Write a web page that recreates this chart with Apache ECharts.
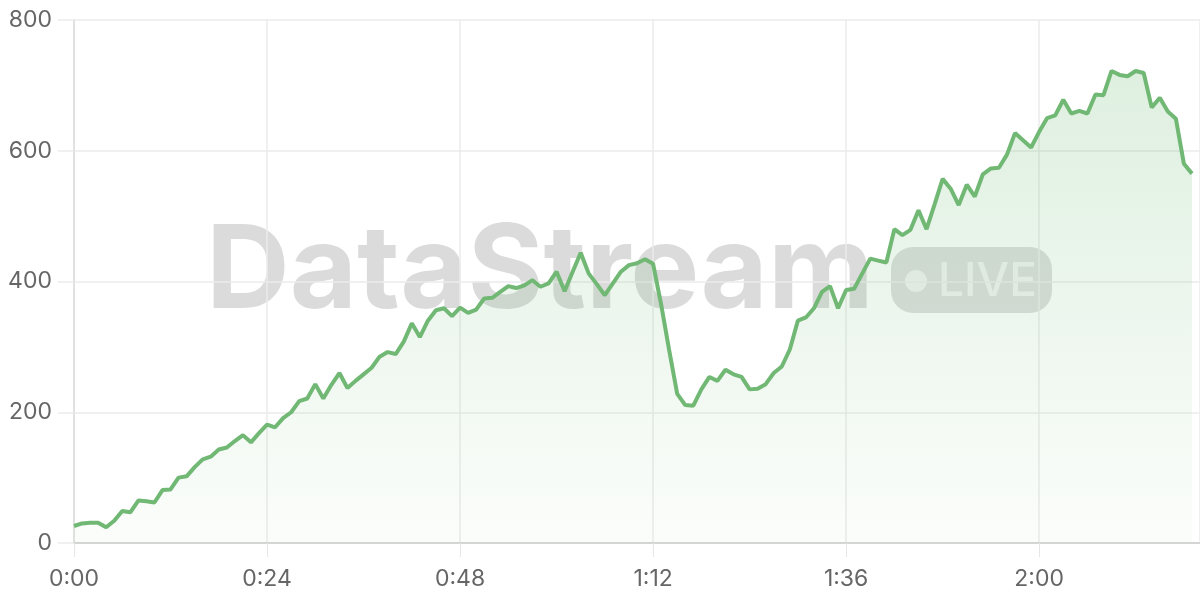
<!DOCTYPE html>
<html>
<head>
<meta charset="utf-8">
<script src="https://cdn.jsdelivr.net/npm/echarts@6/dist/echarts.min.js"></script>
<style>
html,body{margin:0;padding:0;background:#fff;}
#chart{width:1200px;height:600px;}
</style>
</head>
<body>
<div id="chart"></div>
<script>
// Values sampled once per second (0:00 .. 2:19)
const values = [
  26, 30, 31, 31, 24, 34, 49, 47, 65, 64,
  62, 81, 82, 100, 102, 116, 128, 132, 143, 146,
  156, 165, 154, 168, 181, 177, 191, 200, 217, 221,
  243, 221, 242, 260, 237, 248, 258, 268, 285, 292,
  289, 308, 336, 315, 340, 356, 359, 347, 360, 352,
  357, 374, 375, 384, 393, 390, 394, 402, 392, 397,
  415, 385, 415, 444, 412, 396, 379, 397, 415, 425,
  428, 434, 427, 365, 295, 228, 211, 210, 235, 254,
  248, 265, 258, 254, 235, 236, 243, 260, 270, 296,
  340, 345, 359, 384, 393, 359, 387, 389, 412, 435,
  432, 429, 480, 471, 479, 509, 480, 518, 557, 542,
  517, 548, 530, 564, 573, 574, 594, 627, 616, 605,
  629, 650, 654, 678, 657, 661, 657, 686, 685, 722,
  716, 714, 722, 719, 666, 681, 660, 649, 580, 565
];
const yTicks = [0, 200, 400, 600, 800];
const xTickSeconds = [0, 24, 48, 72, 96, 120];
const watermarkText = 'DataStream';
const badgeText = 'LIVE';

const seriesData = values.map((v, i) => [i, v]);

function fmt(sec) {
  const m = Math.floor(sec / 60);
  const s = Math.round(sec % 60);
  return m + ':' + (s < 10 ? '0' + s : s);
}

const chart = echarts.init(document.getElementById('chart'), null, {renderer: 'canvas'});
const green = '#70b874';
chart.setOption({
  animation: false,
  backgroundColor: '#fff',
  grid: {left: 74, right: 0, top: 20, bottom: 57, containLabel: false},
  graphic: [
    {
      type: 'text', z: 0, x: 206, y: 273,
      style: {
        text: watermarkText,
        font: 'bold 116px Inter, sans-serif',
        fill: 'rgba(0,0,0,0.14)',
        verticalAlign: 'middle', align: 'left'
      }
    },
    {
      type: 'group', z: 0, x: 891, y: 247,
      children: [
        {type: 'rect', shape: {x: 0, y: 0, width: 161, height: 66, r: 22},
         style: {fill: 'rgba(0,0,0,0.13)'}},
        {type: 'circle', shape: {cx: 25, cy: 34, r: 11},
         style: {fill: 'rgba(255,255,255,0.6)'}},
        {type: 'text', x: 47, y: 35,
         style: {text: badgeText, font: '500 46px Inter, sans-serif',
                 fill: 'rgba(255,255,255,0.6)', verticalAlign: 'middle', align: 'left'}}
      ]
    }
  ],
  xAxis: {
    type: 'value', min: 0, max: 140, interval: 24,
    axisLine: {show: true, lineStyle: {color: '#cccccc', width: 1.5}},
    axisTick: {show: true, length: 14, lineStyle: {color: '#e6e6e6'}},
    splitLine: {show: true, lineStyle: {color: '#ebebeb', width: 1.5}},
    axisLabel: {
      color: '#666', fontSize: 23, margin: 25, fontFamily: 'Inter',
      showMaxLabel: false,
      formatter: v => xTickSeconds.indexOf(v) >= 0 ? fmt(v) : ''
    }
  },
  yAxis: {
    type: 'value', min: yTicks[0], max: yTicks[yTicks.length - 1], interval: 200,
    axisLine: {show: true, lineStyle: {color: '#dddddd', width: 1.5}},
    axisTick: {show: true, length: 16, lineStyle: {color: '#ebebeb', width: 1.5}},
    splitLine: {show: true, lineStyle: {color: '#ebebeb', width: 1.5}},
    axisLabel: {color: '#666', fontSize: 23, margin: 22, fontFamily: 'Inter'}
  },
  series: [{
    type: 'line',
    data: seriesData,
    showSymbol: false,
    symbol: 'none',
    z: 3,
    lineStyle: {color: green, width: 4},
    areaStyle: {
      color: new echarts.graphic.LinearGradient(0, 0, 0, 1, [
        {offset: 0, color: 'rgba(110,185,115,0.32)'},
        {offset: 1, color: 'rgba(110,185,115,0.04)'}
      ])
    }
  }]
});
</script>
</body>
</html>
